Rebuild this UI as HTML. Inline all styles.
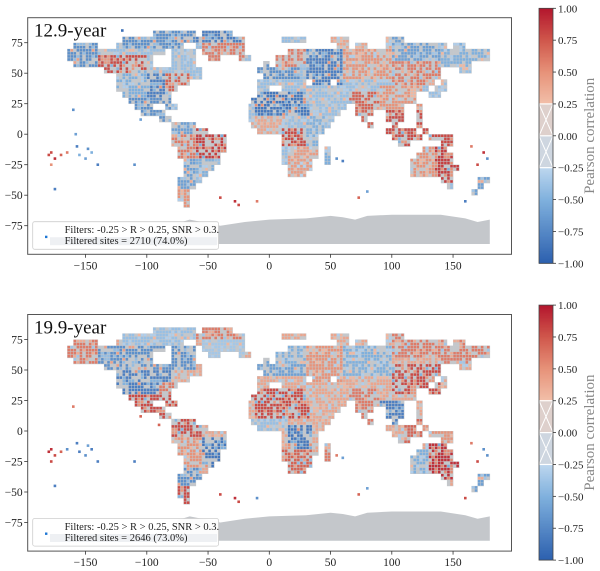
<!DOCTYPE html>
<html><head><meta charset="utf-8">
<style>
html,body{margin:0;padding:0;background:#fff;}
svg{display:block;font-family:"Liberation Serif",serif;}
</style></head>
<body>
<svg id="fig" width="600" height="571" viewBox="0 0 600 571" xmlns="http://www.w3.org/2000/svg"></svg>
<script>
// ---------- data ----------
const xTicks = [-150,-100,-50,0,50,100,150];
const yTicks = [75,50,25,0,-25,-50,-75];
const cbTicks = [1.00,0.75,0.50,0.25,0.00,-0.25,-0.50,-0.75,-1.00];
const panelTitles = ["12.9-year","19.9-year"];
const filteredCounts = ["2710 (74.0%)","2646 (73.0%)"];
// land mask: lat row top -> [lonStart, lonEnd)
const landLat = [85,80,75,70,65,60,55,50,45,40,35,30,25,20,15,10,5,0,-5,-10,-15,-20,-25,-30,-35,-40,-45,-50,-55];
const landRanges = [
 [[-95,-60],[-55,-30]],
 [[-120,-65],[-70,-20],[10,30],[50,65],[95,110]],
 [[-160,-140],[-125,-70],[-60,-20],[55,65],[70,80],[95,145],[150,160]],
 [[-165,-140],[-140,-85],[-80,-60],[-55,-20],[15,180]],
 [[-165,-140],[-140,-95],[-80,-60],[-50,-40],[-25,-15],[5,180]],
 [[-160,-135],[-135,-95],[-80,-60],[-5,0],[5,165]],
 [[-135,-55],[-10,0],[0,140],[155,165]],
 [[-125,-55],[-5,140]],
 [[-125,-65],[-10,30],[35,50],[55,135],[140,145]],
 [[-125,-75],[-10,0],[10,130],[135,145]],
 [[-120,-80],[-10,120],[130,140]],
 [[-115,-80],[-15,120]],
 [[-110,-95],[-85,-75],[-17,60],[70,110],[120,125]],
 [[-105,-85],[-17,55],[70,85],[95,110],[120,125]],
 [[-90,-80],[-17,50],[75,80],[95,110],[120,125]],
 [[-80,-60],[-15,50],[80,85],[100,105],[120,125]],
 [[-80,-50],[-10,45],[95,120],[125,130]],
 [[-80,-35],[10,40],[100,125],[130,150]],
 [[-80,-35],[10,40],[105,115],[140,150]],
 [[-75,-35],[10,40],[45,50],[125,145]],
 [[-75,-40],[10,40],[45,50],[120,150]],
 [[-70,-40],[10,35],[45,50],[115,150]],
 [[-70,-45],[15,35],[115,155]],
 [[-70,-50],[15,30],[115,150]],
 [[-75,-55],[140,150],[170,180]],
 [[-75,-60],[145,150],[170,175]],
 [[-75,-65],[165,170]],
 [[-75,-65]],
 [[-70,-65]]
];
// regional correlation values [lon0, lon1, lat0, lat1, R]
const regions129 = [
 [-180,180,-90,90,-0.4],
 [-170,-140,55,75,-0.7],[-140,-100,50,65,0.8],[-100,-60,55,70,-0.4],[-120,-60,70,85,-0.7],
 [-60,-20,75,85,-0.8],[-55,-20,60,75,0.6],[-125,-100,30,50,-0.5],[-100,-85,30,50,-0.8],
 [-85,-65,35,50,0.7],[-115,-80,10,30,-0.7],[-80,-60,0,12,-0.6],[-60,-35,-20,5,0.85],
 [-80,-60,-20,0,0.6],[-60,-45,-35,-20,-0.5],[-75,-60,-45,-20,-0.6],[-75,-60,-60,-45,0.5],
 [-10,25,45,60,-0.7],[5,30,55,72,0.6],[30,60,40,70,-0.8],[60,100,45,72,0.5],[50,100,72,85,0.4],
 [100,140,60,80,-0.6],[100,140,40,60,0.6],[140,180,55,75,-0.5],[-15,30,15,35,-0.85],
 [30,60,15,40,-0.4],[-15,10,0,15,0.4],[10,30,-10,5,0.8],[30,45,-10,15,-0.5],
 [15,45,-35,-10,0.45],[45,50,-25,-10,-0.5],[65,90,5,35,0.7],[90,125,20,40,0.5],
 [95,125,-10,20,0.8],[125,150,-10,5,0.8],[115,135,-35,-10,0.5],[135,155,-40,-10,0.85],
 [165,180,-50,-35,-0.6]
];
const regions199 = [
 [-180,180,-90,90,0.4],
 [-170,-140,55,75,0.6],[-140,-60,50,70,-0.7],[-120,-60,70,85,-0.4],[-60,-20,75,85,0.6],
 [-55,-20,60,75,-0.35],[-125,-80,30,50,-0.8],[-90,-70,25,40,0.6],[-115,-75,5,30,0.8],
 [-80,-55,-5,12,0.8],[-55,-35,-30,-5,-0.85],[-75,-55,-30,-5,0.5],[-75,-55,-45,-30,-0.7],
 [-75,-60,-60,-45,0.8],[-10,30,45,60,-0.6],[5,30,55,72,-0.5],[30,60,40,70,0.5],
 [60,100,45,72,-0.5],[100,140,60,80,0.6],[100,140,30,55,0.8],[140,180,55,75,0.6],
 [-15,30,10,35,0.8],[30,60,15,40,0.4],[-15,15,0,10,-0.4],[15,35,-15,5,-0.85],
 [10,35,-35,-15,0.7],[45,50,-25,-10,0.6],[65,90,5,35,0.6],[90,110,5,25,-0.8],
 [110,125,-10,10,0.7],[95,110,-10,5,0.4],[125,150,-10,5,0.5],[113,130,-35,-15,-0.5],
 [130,155,-40,-10,0.9],[165,180,-50,-35,-0.6]
];
// ocean/island sites
const islandLon129 = [-178,-175,-170,-160,-157,-150,-145,-140,-120,-110,-105,-40,-28,-25,-10,55,60,73,80,160,165,170,175,178,-175,-158,-165,-155,-148,-180,-178];
const islandLat129 = [-15,-20,-17,20,-10,-20,-15,-25,85,-25,12,-52,-55,-58,-55,-20,-22,-52,-47,-55,-10,-25,-15,-20,-45,0,-15,-17,-12,-17,-25];
const islandVal129 = [0.8,0.9,0.7,-0.7,-0.8,-0.6,-0.5,-0.8,-0.9,-0.7,-0.6,0.8,0.9,0.8,0.6,-0.7,-0.8,0.7,-0.6,-0.8,0.6,0.8,0.9,-0.7,-0.8,-0.6,0.6,-0.5,-0.7,0.8,0.5];
const islandLon199 = [-178,-175,-170,-160,-157,-150,-145,-140,-110,-105,-40,-28,-25,-10,55,60,73,80,160,165,170,175,178,-175,-90,-165,-155,-148,-180,-178];
const islandLat199 = [-15,-20,-17,20,-10,-20,-15,-25,-25,12,-52,-55,-58,-55,-20,-22,-52,-47,-55,-10,-25,-15,-20,-45,5,-15,-17,-12,-17,-25];
const islandVal199 = [0.9,0.8,0.7,0.6,-0.8,-0.7,-0.8,-0.8,-0.8,0.7,0.8,0.9,0.8,-0.7,0.6,-0.6,0.7,-0.6,0.8,0.6,0.8,-0.7,-0.7,-0.8,0.7,-0.7,-0.8,-0.6,0.9,0.8];
const antarcticaLon = [-75,-65,-55,-40,-20,0,30,50,60,70,80,100,120,140,160,170,180,180,-75];
const antarcticaLat = [-73,-70,-72,-75,-72,-70,-69,-67,-68,-70,-67,-66,-66,-66,-69,-72,-70,-90,-90];

// ---------- layout ----------
const NS="http://www.w3.org/2000/svg";
const svg=document.getElementById('fig');
function el(tag,attrs,parent){const e=document.createElementNS(NS,tag);for(const k in attrs)e.setAttribute(k,attrs[k]);(parent||svg).appendChild(e);return e;}
const AX={l:27.7,r:511.5};
const panelTop=[17.7,314.5], panelH=236.6;
function xs(lon){return 269.3+lon*1.225;}
function ysFn(off){return lat=>off+134.2-lat*1.22;}
const stops=[[-1,[43,95,174]],[-0.5,[127,176,221]],[-0.25,[188,214,238]],[0.25,[242,192,170]],[0.5,[231,147,122]],[0.75,[208,88,76]],[1,[180,23,46]]];
function cmap(v){for(let i=0;i<stops.length-1;i++){const a=stops[i],b=stops[i+1];if(v<=b[0]){const t=(v-a[0])/(b[0]-a[0]);const c=a[1].map((x,j)=>Math.round(x+(b[1][j]-x)*t));return `rgb(${c})`;}}return 'rgb(180,23,46)';}
function regionVal(regs,lon,lat){let v=0;for(const r of regs){if(lon>=r[0]&&lon<r[1]&&lat>r[2]&&lat<=r[3])v=r[4];}return v;}
// texture pattern (visual speckle only)
function tex(lon,lat){const s=Math.sin(lon*12.9898+lat*78.233)*43758.5453;return s-Math.floor(s);}

function panel(p){
  const off=panelTop[p]-17.7, ys=ysFn(off);
  const regs=p===0?regions129:regions199;
  const g=el('g',{});
  
  
  const pa=el('rect',{x:AX.l,y:panelTop[p],width:AX.r-AX.l,height:panelH,fill:'#fff',stroke:'#555','stroke-width':1},g);
  
  
  const pts=antarcticaLon.map((lo,i)=>xs(lo).toFixed(1)+','+ys(antarcticaLat[i]).toFixed(1)).join(' ');
  const an=el('polygon',{points:pts,fill:'#c4c7cb'},g);
  
  
  const cw=5*1.225, ch=5*1.22;
  landLat.forEach((lat,ri)=>{
    landRanges[ri].forEach(rg=>{
      for(let lon=rg[0];lon<rg[1];lon+=5){
        el('rect',{x:xs(lon),y:ys(lat),width:cw+0.3,height:ch+0.3,fill:'#c4c7cb'},g);
        const v=regionVal(regs,lon,lat);
        for(let a=0;a<2;a++)for(let b=0;b<2;b++){
          const lo=lon+2.5*a, la=lat-2.5*b;
          const h=tex(lo,la);
          let vv=v;
          if(Math.abs(v)<=0.25) continue;
          if(h<0.22) continue;
          if(h<0.38) vv=v*0.6;
          else if(h<0.44) vv=-v*0.6;
          if(Math.abs(vv)<=0.25) vv=vv>0?0.3:-0.3;
          const d=el('rect',{x:xs(lo)+0.25,y:ys(la)+0.25,width:2.55,height:2.55,fill:cmap(vv)},g);
          
          
        }
      }
    });
  });
  const iL=p===0?islandLon129:islandLon199, iT=p===0?islandLat129:islandLat199, iV=p===0?islandVal129:islandVal199;
  iL.forEach((lo,i)=>{
    const d=el('rect',{x:xs(lo)-1.3,y:ys(iT[i])-1.3,width:2.6,height:2.6,fill:cmap(iV[i])},g);
    
    
  });
  xTicks.forEach(t=>{
    const x=xs(t), yb=panelTop[p]+panelH;
    el('line',{x1:x,x2:x,y1:yb,y2:yb+3.5,stroke:'#333','stroke-width':0.8},g);
    const tx=el('text',{x:x,y:yb+15,'font-size':11.5,'text-anchor':'middle',fill:'#222'},g);
    tx.textContent=(t<0?'\u2212':'')+Math.abs(t);
    
    
  });
  yTicks.forEach(t=>{
    const y=ys(t);
    el('line',{x1:AX.l-3.5,x2:AX.l,y1:y,y2:y,stroke:'#333','stroke-width':0.8},g);
    const tx=el('text',{x:AX.l-5,y:y+4,'font-size':11.5,'text-anchor':'end',fill:'#222'},g);
    tx.textContent=(t<0?'\u2212':'')+Math.abs(t);
    
    
  });
  const ti=el('text',{x:34,y:panelTop[p]+19,'font-size':19,fill:'#111'},g);
  ti.textContent=panelTitles[p];
  
  
  const lg=el('g',{},g);
  
  
  const ly=panelTop[p]+204;
  el('rect',{x:32.7,y:ly,width:185.8,height:27.6,rx:2,fill:'#fff',stroke:'#ccc','stroke-width':0.8,opacity:0.95},lg);
  el('rect',{x:50,y:ly+15.5,width:167,height:8,fill:'#eef0f3'},lg);
  el('rect',{x:45,y:ly+14,width:2.4,height:2.4,fill:'#1f77d4'},lg);
  const t1=el('text',{x:64.6,y:ly+11.5,'font-size':10.5,fill:'#222'},lg);
  t1.textContent='Filters: -0.25 > R > 0.25, SNR > 0.3.';
  const t2=el('text',{x:64.6,y:ly+22.5,'font-size':10.5,fill:'#222'},lg);
  t2.textContent='Filtered sites = '+filteredCounts[p];
  const cb=el('g',{},g);
  
  
  const cx=539,cwid=14,ct=panelTop[p]-9.4,chh=255;
  const cy=v=>ct+(1-v)/2*chh;
  for(let v=1;v>-1;v-=0.01){
    let col;
    if(Math.abs(v)<0.25){ col = v>=0 ? 'rgb(222,208,204)' : 'rgb(206,214,224)'; }
    else col=cmap(v);
    el('rect',{x:cx,y:cy(v),width:cwid,height:chh/200+0.4,fill:col},cb);
  }
  [[0.25,0],[0,-0.25]].forEach(([a,b])=>{
    el('line',{x1:cx,y1:cy(a),x2:cx+cwid,y2:cy(b),stroke:'#fff','stroke-width':1},cb);
    el('line',{x1:cx+cwid,y1:cy(a),x2:cx,y2:cy(b),stroke:'#fff','stroke-width':1},cb);
  });
  [0.25,0,-0.25].forEach(v=>el('line',{x1:cx,x2:cx+cwid,y1:cy(v),y2:cy(v),stroke:'#fff','stroke-width':1.2},cb));
  el('rect',{x:cx,y:ct,width:cwid,height:chh,fill:'none',stroke:'#444','stroke-width':0.8},cb);
  cbTicks.forEach(t=>{
    el('line',{x1:cx+cwid,x2:cx+cwid+3,y1:cy(t),y2:cy(t),stroke:'#333','stroke-width':0.8},cb);
    const tx=el('text',{x:cx+cwid+5,y:cy(t)+4,'font-size':11,fill:'#222'},cb);
    tx.textContent=(t<0?'\u2212':'')+Math.abs(t).toFixed(2);
    
    
  });
  const lab=el('text',{x:0,y:0,'font-size':15,fill:'#888','text-anchor':'middle',transform:`translate(594,${ct+chh/2}) rotate(-90)`},cb);
  lab.textContent='Pearson correlation';
  
  
}
panel(0);panel(1);
</script>
</body></html>
